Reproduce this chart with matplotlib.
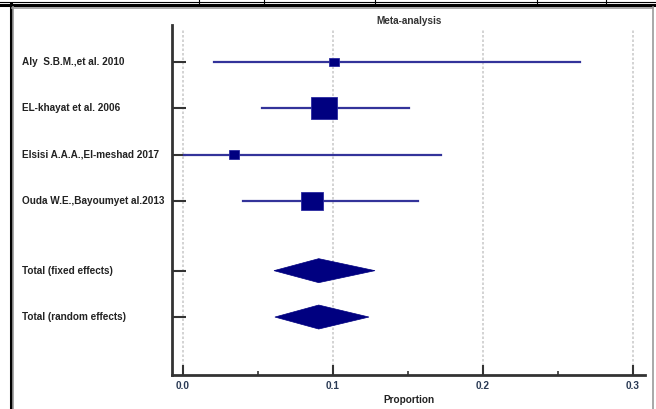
import numpy as np
import matplotlib.pyplot as plt
from matplotlib.patches import Rectangle, Polygon
from matplotlib.lines import Line2D

plt.rcParams['font.family'] = ['Liberation Sans', 'DejaVu Sans']

studies = ["Aly  S.B.M.,et al. 2010", "EL-khayat et al. 2006",
           "Elsisi A.A.A.,El-meshad 2017", "Ouda W.E.,Bayoumyet al.2013"]
prop = [0.1007, 0.094, 0.034, 0.086]
ci_low = [0.021, 0.053, 0.0005, 0.040]
ci_high = [0.265, 0.151, 0.172, 0.157]
weights = [7.4, 49.7, 7.4, 35.6]

pooled = ["Total (fixed effects)", "Total (random effects)"]
pooled_est = [0.0905, 0.0905]
pooled_low = [0.0607, 0.0613]
pooled_high = [0.128, 0.124]

W, H = 656, 409
fig = plt.figure(figsize=(W / 100, H / 100), dpi=100)

# axes box in pixels
x0, x1, ytop, ybot = 172, 645, 30, 375
ax = fig.add_axes([x0 / W, 1 - ybot / H, (x1 - x0) / W, (ybot - ytop) / H])

rows = [1, 2, 3, 4]
prow = [5.5, 6.5]
ax.set_ylim(7.75, 0.31)
ax.set_xlim(-0.0073, 0.308)

px_x = (0.308 + 0.0073) / (x1 - x0)      # data units per pixel, x
px_y = (7.75 - 0.31) / (ybot - ytop)     # data units per pixel, y

navy = '#000080'
line_c = '#33339a'
fs = 7.2

for x in [0.0, 0.1, 0.2, 0.3]:
    ax.axvline(x, color='#cccccc', lw=1.2, ls=(0, (1.5, 1.2)), zorder=0)

for y, p, lo, hi, w in zip(rows, prop, ci_low, ci_high, weights):
    ax.plot([lo, hi], [y, y], color=line_c, lw=1.6, zorder=2)
    side = 26 * np.sqrt(w / max(weights))
    bw, bh = side * px_x, side * 0.85 * px_y
    ax.add_patch(Rectangle((p - bw / 2, y - bh / 2), bw, bh,
                           facecolor=navy, edgecolor='#2a2aa0', lw=0.6, zorder=3))

for y, e, lo, hi in zip(prow, pooled_est, pooled_low, pooled_high):
    hh = 12 * px_y
    ax.add_patch(Polygon([[lo, y], [e, y - hh], [hi, y], [e, y + hh]],
                         closed=True, facecolor=navy, edgecolor=navy, lw=0.5, zorder=3))

ax.set_yticks(rows + prow)
ax.set_yticklabels([])
ax.tick_params(axis='y', direction='in', length=10, width=1.5, color='#333333')
for y, lab in zip(rows + prow, studies + pooled):
    ax.text(22 / W, 1 - (ytop + (y - 0.31) / px_y) / H, lab, transform=fig.transFigure,
            ha='left', va='center', fontsize=fs, fontweight='bold', color='#222222')

ax.set_xticks([0.0, 0.1, 0.2, 0.3])
ax.set_xticklabels(['0.0', '0.1', '0.2', '0.3'], fontsize=fs, fontweight='bold', color='#2a3a55')
ax.set_xticks([0.05, 0.15, 0.25], minor=True)
ax.tick_params(axis='x', which='major', direction='in', length=7, width=1.5,
               color='#333333', pad=4)
ax.tick_params(axis='x', which='minor', direction='in', length=3, width=1.2, color='#333333')
ax.set_xlabel('Proportion', fontsize=fs, fontweight='bold', color='#222222', labelpad=3)

for s in ['top', 'right']:
    ax.spines[s].set_visible(False)
for s in ['left', 'bottom']:
    ax.spines[s].set_linewidth(2)
    ax.spines[s].set_color('#333333')
ax.spines['left'].set_bounds(7.75, 0.2)

fig.text(409 / W, 1 - 21 / H, 'Meta-analysis', ha='center', va='center',
         fontsize=fs, fontweight='bold', color='#333333')


# page frame around the chart
def hline(y, xa, xb, lw, c):
    fig.add_artist(Line2D([xa / W, xb / W], [1 - y / H, 1 - y / H], lw=lw, color=c))


def vline(x, ya, yb, lw, c):
    fig.add_artist(Line2D([x / W, x / W], [1 - ya / H, 1 - yb / H], lw=lw, color=c))


hline(1.5, 0, W, 0.8, 'black')
hline(5, 0, W, 2.2, 'black')
for x in [199, 264, 375, 537, 606]:
    vline(x, 0, 4, 0.8, 'black')
vline(11, 4, H, 2.2, 'black')
vline(13, 7, H, 1.2, '#999999')
hline(7.5, 12, 653, 1.2, '#999999')
vline(653, 7, H, 1.2, '#999999')

fig.savefig('out.png', dpi=100)
